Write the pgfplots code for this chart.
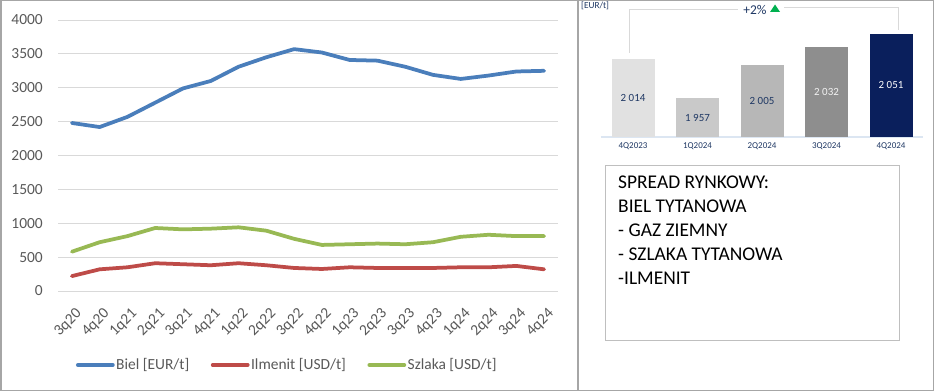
\documentclass[border=0pt]{standalone}
\usepackage{pgfplots}
\pgfplotsset{compat=1.18}
\usepackage{fontspec}
\setmainfont{Carlito}
\definecolor{biel}{HTML}{4A7EBB}
\definecolor{ilm}{HTML}{BE4B48}
\definecolor{szl}{HTML}{98B954}
\definecolor{tickgray}{HTML}{595959}
\definecolor{gridgray}{HTML}{D9D9D9}
\definecolor{framegray}{HTML}{A6A6A6}
\definecolor{navy}{HTML}{1F3864}
\definecolor{navybar}{HTML}{0A1F5C}
\definecolor{gA}{HTML}{E1E1E1}
\definecolor{gB}{HTML}{C9C9C9}
\definecolor{gC}{HTML}{B7B7B7}
\definecolor{gD}{HTML}{8E8E8E}
\definecolor{baseblue}{HTML}{DCE6F2}
\definecolor{upgreen}{HTML}{00B050}
\definecolor{boxgray}{HTML}{BFBFBF}
\begin{document}
\begin{tikzpicture}
\useasboundingbox (0bp,0bp) rectangle (934bp,391bp);
\fill[white] (0bp,0bp) rectangle (934bp,391bp);
% ---------------- left line chart ----------------
\begin{axis}[
  at={(58bp,100bp)}, anchor=south west, scale only axis,
  width=500bp, height=271bp,
  xmin=-0.5, xmax=17.5, ymin=0, ymax=4000,
  ytick={0,500,...,4000},
  xtick={0,...,17},
  xticklabels={3q20,4q20,1q21,2q21,3q21,4q21,1q22,2q22,3q22,4q22,1q23,2q23,3q23,4q23,1q24,2q24,3q24,4q24},
  ymajorgrids, grid style={draw=gridgray, line width=0.9bp},
  axis line style={draw=none}, major tick length=0pt,
  tick label style={font=\fontsize{15.5}{17}\selectfont, text=tickgray},
  /pgf/number format/assume math mode=true,
  /pgf/number format/1000 sep={},
  yticklabel style={anchor=east, inner sep=0pt, xshift=-15bp},
  xticklabel style={xshift=3bp, yshift=-16bp, rotate=45, anchor=north east, inner sep=0pt},
  legend columns=3,
  legend style={at={(0.036,-0.273)}, anchor=west, draw=none, fill=none,
    inner sep=0pt, outer sep=0pt,
    nodes={inner sep=1.5bp},
    font=\fontsize{15.5}{17}\selectfont, text=tickgray,
    /tikz/every even column/.append style={column sep=20bp}},
  legend image code/.code={\draw[#1, line width=3.75bp, line cap=round] (0bp,0bp) -- (35bp,0bp);},
  clip=false,
]
\addplot[biel, line width=3.75bp, line join=round, line cap=round] coordinates {
(0,2480) (1,2420) (2,2570) (3,2780) (4,2990) (5,3100) (6,3310) (7,3450) (8,3570)
(9,3520) (10,3410) (11,3400) (12,3310) (13,3190) (14,3130) (15,3180) (16,3240) (17,3250)};
\addlegendentry{Biel [EUR/t]}
\addplot[ilm, line width=3.75bp, line join=round, line cap=round] coordinates {
(0,220) (1,320) (2,350) (3,410) (4,395) (5,380) (6,410) (7,380) (8,340)
(9,325) (10,350) (11,340) (12,340) (13,340) (14,350) (15,350) (16,370) (17,320)};
\addlegendentry{Ilmenit [USD/t]}
\addplot[szl, line width=3.75bp, line join=round, line cap=round] coordinates {
(0,580) (1,720) (2,810) (3,930) (4,910) (5,920) (6,940) (7,890) (8,770)
(9,680) (10,690) (11,700) (12,690) (13,720) (14,800) (15,830) (16,810) (17,810)};
\addlegendentry{Szlaka [USD/t]}
\end{axis}
% ---------------- right bar chart ----------------
\begin{axis}[
  at={(600.75bp,254bp)}, anchor=south west, scale only axis,
  width=322.5bp, height=136.8bp,
  xmin=-0.5, xmax=4.5, ymin=1900, ymax=2100,
  axis line style={draw=none}, major tick length=0pt,
  ytick=\empty,
  xtick={0,...,4},
  xticklabels={4Q2023,1Q2024,2Q2024,3Q2024,4Q2024},
  xticklabel style={font=\fontsize{9}{10}\selectfont, text=navy, yshift=-2bp},
  ybar, bar width=43bp, bar shift=0pt,
  point meta=explicit symbolic,
  nodes near coords,
  visualization depends on={rawy \as \rawy},
  every node near coord/.append style={anchor=center, font=\fontsize{11}{12}\selectfont,
     yshift={-0.342*(\rawy-1900)*1.00375}},
  clip=false,
]
\draw[baseblue, line width=1.5bp] (axis cs:-0.5,1900) -- (axis cs:4.5,1900);
\addplot[fill=gA, draw=none, every node near coord/.append style={text=navy}] coordinates {(0,2014) [2 014]};
\addplot[fill=gB, draw=none, every node near coord/.append style={text=navy}] coordinates {(1,1957) [1 957]};
\addplot[fill=gC, draw=none, every node near coord/.append style={text=navy}] coordinates {(2,2005) [2 005]};
\addplot[fill=gD, draw=none, every node near coord/.append style={text=white!95!black}] coordinates {(3,2032) [2 032]};
\addplot[fill=navybar, draw=none, every node near coord/.append style={text=white}] coordinates {(4,2051) [2 051]};
\end{axis}
% bracket and growth label
\draw[gridgray, line width=1bp] (629bp,338bp) -- (629bp,381bp) -- (738bp,381bp);
\draw[gridgray, line width=1bp] (784bp,383bp) -- (898bp,383bp) -- (898bp,361bp);
\node[text=navy, font=\fontsize{13.5}{14}\selectfont, inner sep=0pt] at (755bp,381bp) {+2\%};
\fill[upgreen] (770bp,379bp) -- (780bp,379bp) -- (775bp,386.5bp) -- cycle;
\node[text=navy, font=\fontsize{9.3}{10}\selectfont, anchor=north west, inner sep=0pt] at (581bp,389bp) {[EUR/t]};
% text box
\draw[boxgray, line width=1bp] (605bp,225bp) rectangle (899bp,50bp);
\begin{scope}[every node/.style={anchor=base west, inner sep=0pt, font=\fontsize{19.5}{22}\selectfont}]
\node at (618bp,202.5bp) {SPREAD RYNKOWY:};
\node at (618bp,178.5bp) {BIEL TYTANOWA};
\node at (618bp,154.5bp) {- GAZ ZIEMNY};
\node at (618bp,130bp) {- SZLAKA TYTANOWA};
\node at (618bp,106.5bp) {-ILMENIT};
\end{scope}
% frames
\draw[framegray, line width=1.5bp] (0.75bp,0.75bp) rectangle (933.25bp,390.25bp);
\draw[framegray, line width=2bp] (577.5bp,0bp) -- (577.5bp,391bp);
\end{tikzpicture}
\end{document}
